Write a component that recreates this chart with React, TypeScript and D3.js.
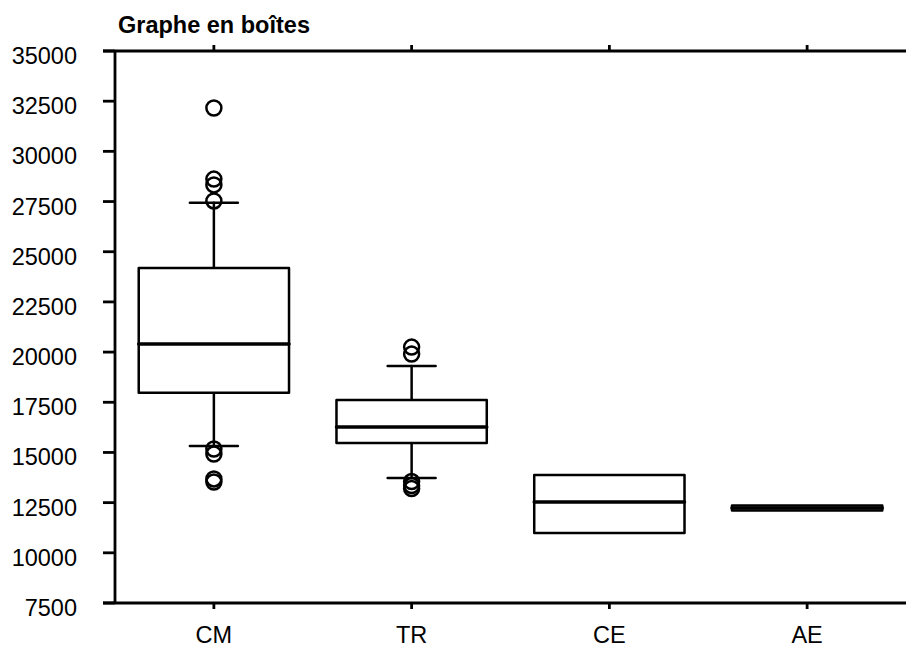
import * as d3 from "d3";

// boîtes : valeurs
const categories = ["CM", "TR", "CE", "AE"];
const q1 = [17980, 15470, 10990, 12105];
const median = [20400, 16270, 12530, 12230];
const q3 = [24190, 17610, 13880, 12355];
const whiskerLow = [15320, 13730, 10990, 12105];
const whiskerHigh = [27440, 19310, 13880, 12355];
const outliers = [
  [32160, 28620, 28330, 27530, 15170, 14920, 13680, 13530],
  [20250, 19900, 13550, 13350, 13200],
  [],
  [],
];
const yTicks = [7500, 10000, 12500, 15000, 17500, 20000, 22500, 25000, 27500, 30000, 32500, 35000];

const W = 906;
const H = 648;
const left = 115;
const right = 906;
const top = 51;
const bottom = 603;
const font = "'Liberation Sans', Arial, sans-serif";

export default function App() {
  const x = d3.scaleBand().domain(categories).range([left, right]);
  const y = d3.scaleLinear().domain([7500, 35000]).range([bottom, top]);
  const boxHalf = x.bandwidth() * 0.38;
  const capHalf = 24;

  return (
    <svg width={W} height={H} style={{ position: "absolute", left: 0, top: 0, background: "#fff" }}>
      <text x={118} y={33} fontFamily={font} fontWeight="bold" fontSize={23.5}>
        Graphe en boîtes
      </text>

      {/* axes */}
      <line x1={left} x2={left} y1={top} y2={bottom} stroke="#000" strokeWidth={2.8} />
      <line x1={103} x2={right} y1={top} y2={top} stroke="#000" strokeWidth={2.8} />
      <line x1={103} x2={right} y1={bottom} y2={bottom} stroke="#000" strokeWidth={2.8} />
      {yTicks.map((t) => (
        <g key={t}>
          <line x1={103} x2={left} y1={y(t)} y2={y(t)} stroke="#000" strokeWidth={2.8} />
          <text x={77} y={y(t) + 13} textAnchor="end" fontFamily={font} fontSize={23.5}>
            {t}
          </text>
        </g>
      ))}
      {categories.map((c) => {
        const cx = x(c)! + x.bandwidth() / 2;
        return (
          <g key={c}>
            <line x1={cx} x2={cx} y1={top - 6} y2={top} stroke="#000" strokeWidth={2.8} />
            <line x1={cx} x2={cx} y1={bottom} y2={bottom + 6} stroke="#000" strokeWidth={2.8} />
            <text x={cx} y={643} textAnchor="middle" fontFamily={font} fontSize={23.5}>
              {c}
            </text>
          </g>
        );
      })}

      {/* boîtes */}
      {categories.map((c, i) => {
        const cx = x(c)! + x.bandwidth() / 2;
        return (
          <g key={c} stroke="#000" fill="none" strokeLinejoin="round" strokeLinecap="round">
            {whiskerHigh[i] > q3[i] && (
              <>
                <line x1={cx} x2={cx} y1={y(q3[i])} y2={y(whiskerHigh[i])} strokeWidth={2.5} />
                <line x1={cx - capHalf} x2={cx + capHalf} y1={y(whiskerHigh[i])} y2={y(whiskerHigh[i])} strokeWidth={2.5} />
              </>
            )}
            {whiskerLow[i] < q1[i] && (
              <>
                <line x1={cx} x2={cx} y1={y(q1[i])} y2={y(whiskerLow[i])} strokeWidth={2.5} />
                <line x1={cx - capHalf} x2={cx + capHalf} y1={y(whiskerLow[i])} y2={y(whiskerLow[i])} strokeWidth={2.5} />
              </>
            )}
            <rect
              x={cx - boxHalf}
              y={y(q3[i])}
              width={boxHalf * 2}
              height={y(q1[i]) - y(q3[i])}
              strokeWidth={2.5}
              fill="#fff"
            />
            <line x1={cx - boxHalf} x2={cx + boxHalf} y1={y(median[i])} y2={y(median[i])} strokeWidth={3.5} />
            {outliers[i].map((o, j) => (
              <circle key={j} cx={cx} cy={y(o)} r={7.5} strokeWidth={2.5} />
            ))}
          </g>
        );
      })}
    </svg>
  );
}
